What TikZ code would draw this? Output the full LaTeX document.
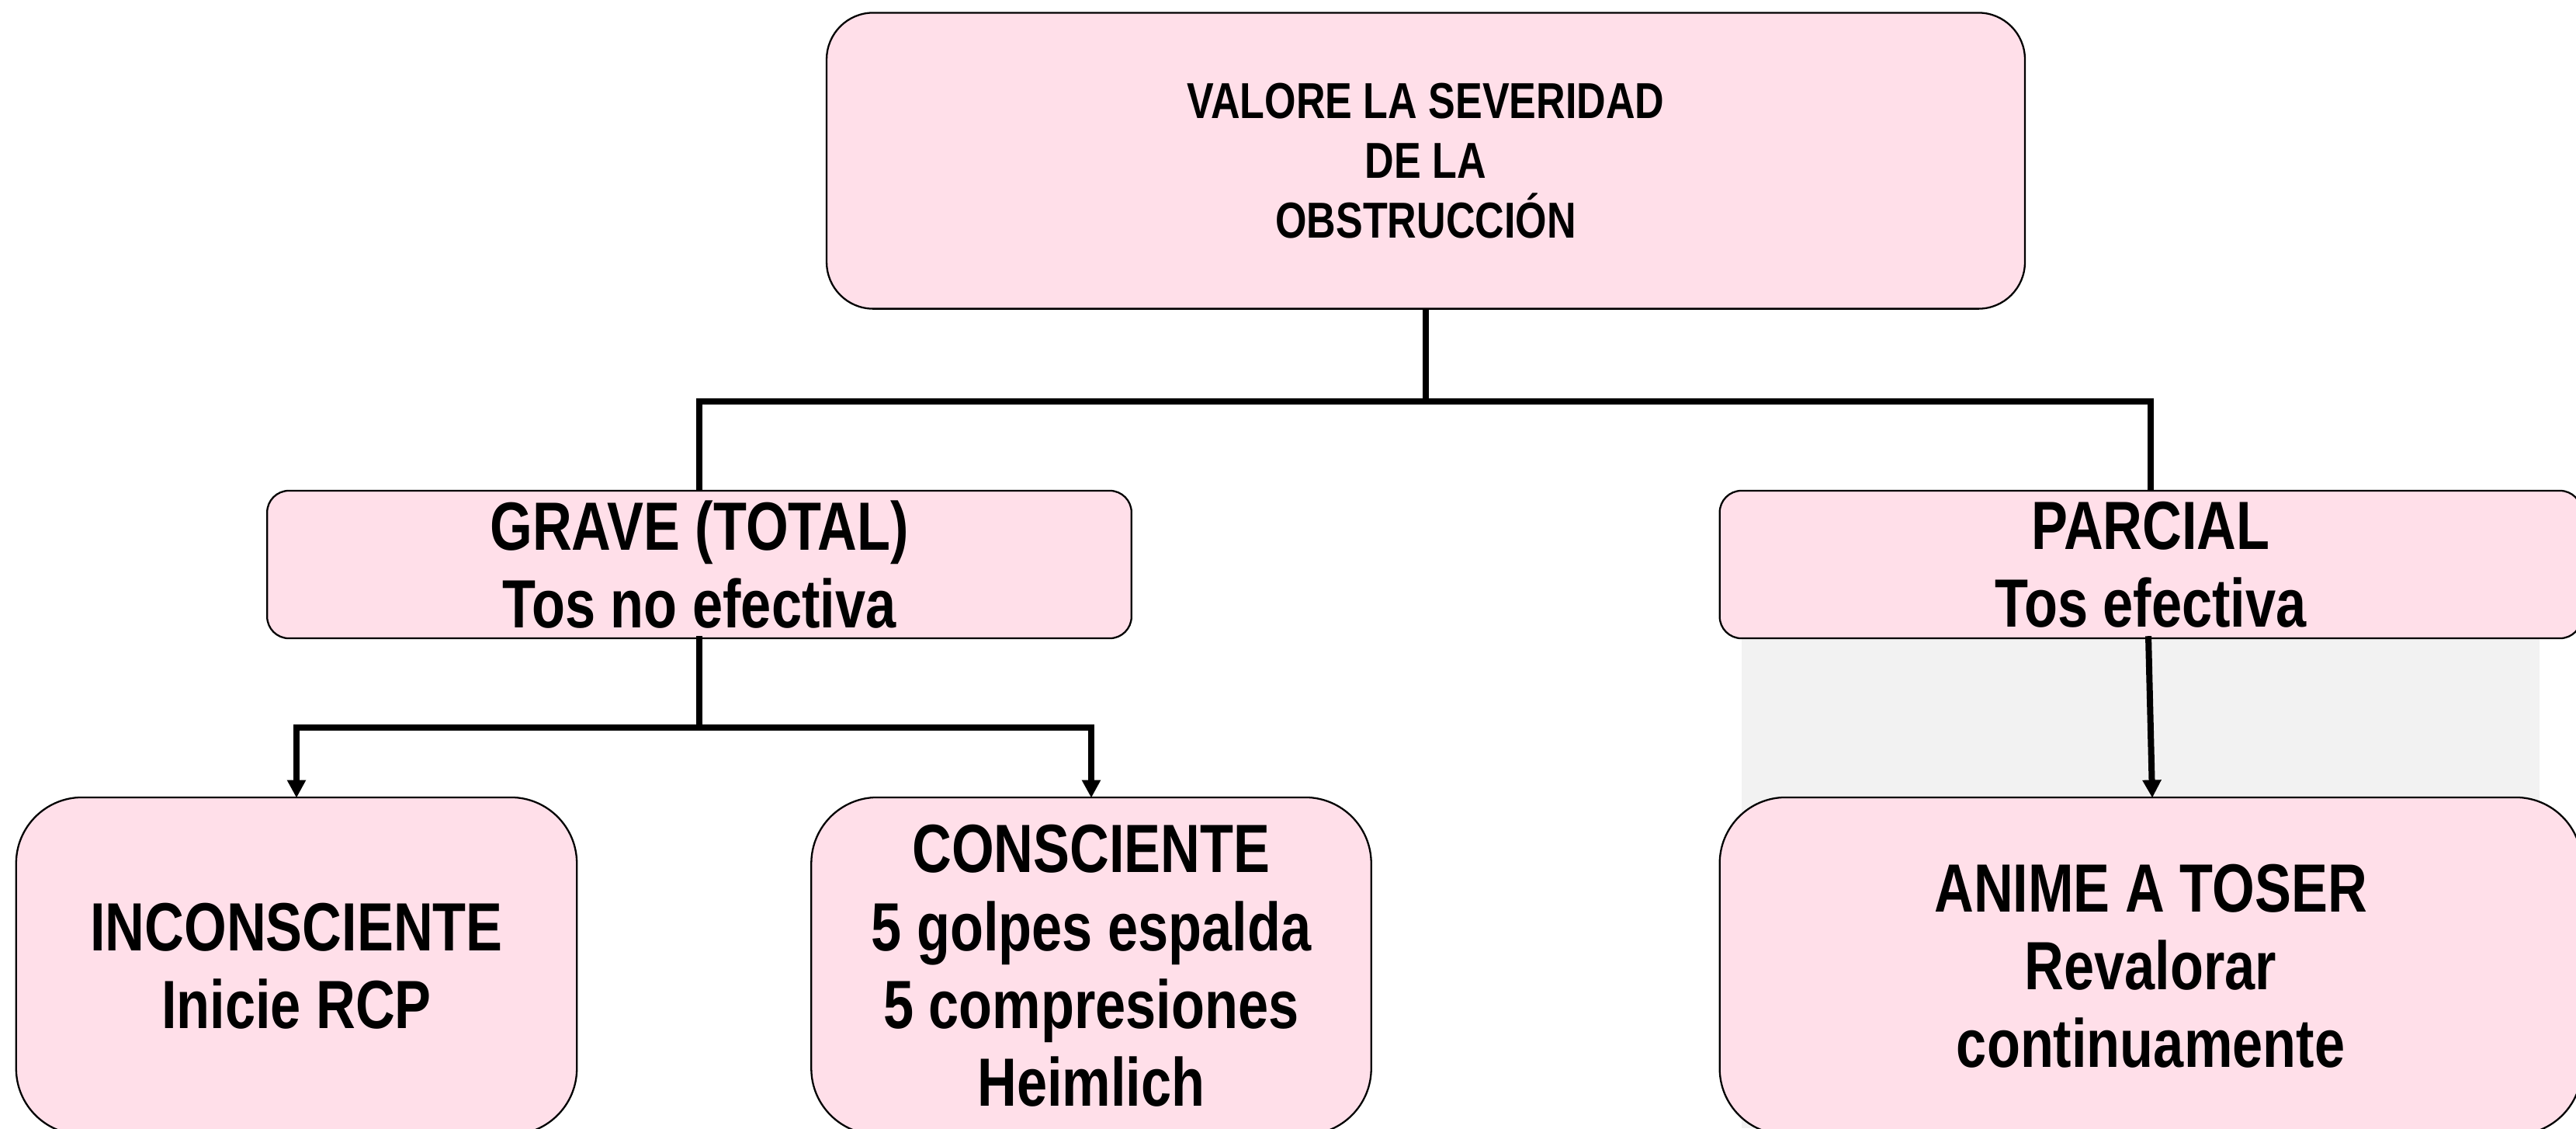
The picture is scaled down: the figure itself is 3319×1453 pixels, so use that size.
\documentclass[tikz,border=0pt]{standalone}
\usepackage{fontspec}
\setmainfont[FakeStretch=0.8]{Liberation Sans}
\usetikzlibrary{arrows.meta}
\definecolor{boxpink}{RGB}{255,223,233}
\definecolor{panelgray}{RGB}{242,242,242}
\begin{document}
\begin{tikzpicture}[x=0.01cm,y=-0.01cm,
  box/.style={draw=black, line width=0.65pt, fill=boxpink, align=center, inner sep=0pt},
  midtext/.style={font=\bfseries\fontsize{25}{28.5}\selectfont},
  conn/.style={line width=0.08cm, draw=black},
  arr/.style={conn, -{Triangle[length=0.23cm,width=0.23cm]}, shorten >=-0.5pt}]
\useasboundingbox (0,0) rectangle (3319,1453);
\fill[panelgray] (2244,821) rectangle (3272,1453);
% boxes
\node[box, rounded corners=0.6cm, minimum width=15.43cm, minimum height=3.81cm,
      font=\bfseries\fontsize{18.5}{21.9}\selectfont] (top) at (1837,207)
      {VALORE LA SEVERIDAD\\DE LA\\OBSTRUCCIÓN};
\node[box, midtext, rounded corners=0.28cm, minimum width=11.13cm, minimum height=1.9cm]
      (grave) at (901,727) {GRAVE (TOTAL)\\Tos no efectiva};
\node[box, midtext, rounded corners=0.28cm, minimum width=11.1cm, minimum height=1.9cm]
      (parcial) at (2771,727) {PARCIAL\\Tos efectiva};
\node[box, midtext, rounded corners=0.85cm, minimum width=7.22cm, minimum height=4.34cm]
      (incon) at (382,1244) {INCONSCIENTE\\Inicie RCP};
\node[box, midtext, rounded corners=0.85cm, minimum width=7.21cm, minimum height=4.34cm]
      (consc) at (1406,1244) {CONSCIENTE\\5 golpes espalda\\5 compresiones\\Heimlich};
\node[box, midtext, rounded corners=0.85cm, minimum width=11.1cm, minimum height=4.34cm]
      (anime) at (2771,1244) {ANIME A TOSER\\Revalorar\\continuamente};
% connectors
\coordinate (jtop) at (1837,517);
\coordinate (jlow) at (901,937);
\draw[conn] (top.south) -- (jtop);
\draw[conn] (grave.north) -- (grave.north |- jtop) -- (parcial.north |- jtop) -- (parcial.north);
\draw[conn] ([yshift=0.04cm]grave.south) -- (jlow);
\draw[conn] ([xshift=-0.04cm]incon.north |- jlow) -- ([xshift=0.04cm]consc.north |- jlow);
\draw[arr] (incon.north |- jlow) -- (incon.north);
\draw[arr] (consc.north |- jlow) -- (consc.north);
\draw[arr] ([xshift=-0.03cm,yshift=0.04cm]parcial.south) -- ([xshift=0.02cm]anime.north);
\end{tikzpicture}
\end{document}
